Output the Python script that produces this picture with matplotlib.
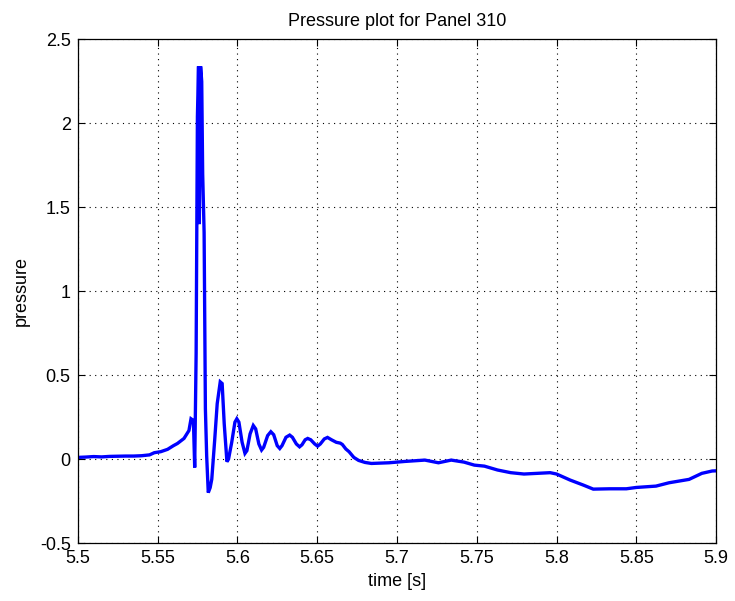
import matplotlib
matplotlib.use("Agg")
import matplotlib.pyplot as plt

# Pressure trace for panel 310
time_s = [
    5.500, 5.505, 5.510, 5.515, 5.520, 5.525, 5.530, 5.535, 5.540, 5.545,
    5.548, 5.552, 5.5563, 5.560, 5.5625, 5.5666, 5.5697, 5.5710, 5.5725,
    5.5733, 5.5742, 5.5750, 5.5757, 5.5762, 5.5770, 5.5777, 5.5783, 5.5792,
    5.5800, 5.5808, 5.5818, 5.5830, 5.5840, 5.5858, 5.5874, 5.5893, 5.5905,
    5.5918, 5.5935, 5.5945, 5.5965, 5.5985, 5.5997, 5.6010, 5.6030, 5.6048,
    5.6060, 5.6080, 5.6100, 5.6115, 5.6135, 5.6152, 5.6165, 5.6190, 5.6210,
    5.6228, 5.6250, 5.6266, 5.6280, 5.6305, 5.6328, 5.6345, 5.6370, 5.6390,
    5.6405, 5.6425, 5.6441, 5.6460, 5.6485, 5.6503, 5.6520, 5.6545, 5.6565,
    5.6590, 5.6620, 5.6645, 5.6658, 5.6680, 5.6700, 5.6730, 5.6760, 5.6800,
    5.684, 5.695, 5.705, 5.7175, 5.726, 5.734, 5.742, 5.7485, 5.7548, 5.763,
    5.7713, 5.7796, 5.7878, 5.796, 5.800, 5.8085, 5.8168, 5.823, 5.8333,
    5.8437, 5.850, 5.8623, 5.8705, 5.883, 5.891, 5.8975, 5.900,
]
pressure = [
    0.010, 0.012, 0.015, 0.013, 0.016, 0.017, 0.018, 0.018, 0.020, 0.025,
    0.038, 0.044, 0.058, 0.080, 0.093, 0.123, 0.170, 0.240, 0.230,
    -0.050, 0.630, 2.040, 2.340, 1.400, 2.340, 2.250, 1.700, 1.350,
    0.300, 0.020, -0.200, -0.170, -0.120, 0.110, 0.330, 0.460, 0.450,
    0.210, -0.016, 0.000, 0.100, 0.220, 0.240, 0.220, 0.100, 0.034,
    0.050, 0.150, 0.200, 0.180, 0.090, 0.054, 0.070, 0.140, 0.163,
    0.145, 0.080, 0.063, 0.080, 0.130, 0.143, 0.130, 0.090, 0.073,
    0.085, 0.115, 0.123, 0.115, 0.090, 0.077, 0.090, 0.120, 0.129,
    0.115, 0.100, 0.095, 0.087, 0.060, 0.044, 0.010, -0.008, -0.020,
    -0.026, -0.022, -0.014, -0.006, -0.022, -0.006, -0.018, -0.036, -0.042, -0.065,
    -0.081, -0.089, -0.085, -0.081, -0.089, -0.125, -0.155, -0.179, -0.177,
    -0.177, -0.169, -0.161, -0.141, -0.121, -0.085, -0.071, -0.070,
]

x_ticks = [5.5, 5.55, 5.6, 5.65, 5.7, 5.75, 5.8, 5.85, 5.9]
x_tick_labels = ["5.5", "5.55", "5.6", "5.65", "5.7", "5.75", "5.8", "5.85", "5.9"]
y_ticks = [-0.5, 0, 0.5, 1, 1.5, 2, 2.5]
y_tick_labels = ["-0.5", "0", "0.5", "1", "1.5", "2", "2.5"]

plt.rcParams["font.family"] = ["Liberation Sans", "DejaVu Sans"]

fig = plt.figure(figsize=(7.35, 6.01), dpi=100)
ax = fig.add_axes([0.1057, 0.0965, 0.8687, 0.8378])

ax.plot(time_s, pressure, color=(0, 0, 1), linewidth=2.4, solid_joinstyle="miter")

ax.set_xlim(5.5, 5.9)
ax.set_ylim(-0.5, 2.5)
ax.set_xticks(x_ticks)
ax.set_xticklabels(x_tick_labels)
ax.set_yticks(y_ticks)
ax.set_yticklabels(y_tick_labels)

ax.grid(True, color="black", linestyle=(0, (1, 4)), linewidth=0.8)
ax.tick_params(direction="in", top=True, right=True, length=5, width=0.8,
               labelsize=13, pad=5)
for s in ax.spines.values():
    s.set_linewidth(0.9)

ax.set_title("Pressure plot for Panel 310", fontsize=13, pad=10)
ax.set_xlabel("time [s]", fontsize=13, labelpad=4)
ax.set_ylabel("pressure", fontsize=13, labelpad=7)

fig.savefig("out.png", dpi=100)
